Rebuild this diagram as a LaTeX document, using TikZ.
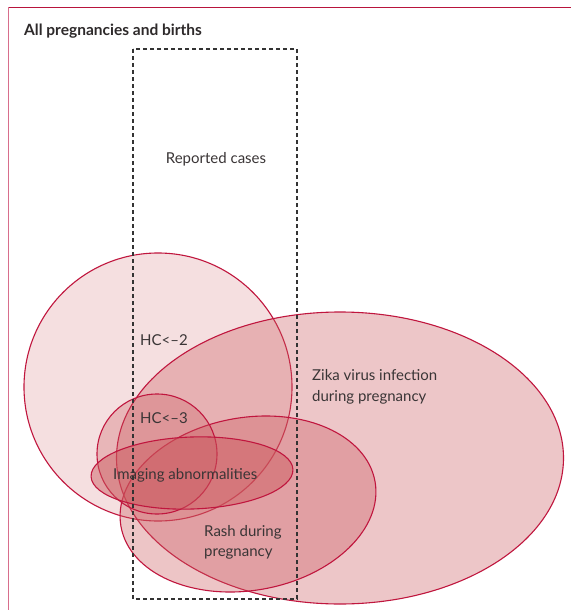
\documentclass[tikz,border=0pt]{standalone}
\usepackage{fontspec}
\setmainfont{Lato}
\definecolor{setred}{HTML}{CC595E}
\definecolor{edgered}{HTML}{C0163E}
\definecolor{textgray}{HTML}{3A3536}
\definecolor{topline}{HTML}{B8143C}
\definecolor{leftline}{HTML}{D86E8C}
\definecolor{dashgray}{HTML}{333333}
\begin{document}
\begin{tikzpicture}[x=1pt,y=-1pt,
  setshape/.style={fill=setred, fill opacity=#1, draw=edgered, line width=1.1pt},
  lbl/.style={text=textgray, font=\fontsize{15}{20}\selectfont, inner sep=0pt},
  ttl/.style={text=textgray!80!black, font=\fontsize{15.5}{18}\selectfont\bfseries, inner sep=0pt},
  dashbox/.style={draw=dashgray, line width=1.1pt, dash pattern=on 4pt off 3pt},
]
\useasboundingbox (0,0) rectangle (571,610);
\fill[white] (0,0) rectangle (571,610);
% frame
\draw[topline, line width=1.5pt] (8,7.3) -- (571,7.3);
\draw[leftline, line width=1.5pt] (8.4,7.3) -- (8.4,610);
% sets
\draw[setshape=0.19] (158,387) circle [radius=134];
\draw[setshape=0.34] (340,458) ellipse [x radius=223.5, y radius=146];
\draw[setshape=0.35, rotate around={10:(248,504)}] (248,504) ellipse [x radius=129, y radius=86.4];
\draw[setshape=0.30] (157,454) circle [radius=60];
\draw[setshape=0.47, rotate around={2:(192,473)}] (192,473) ellipse [x radius=101, y radius=36];
% reported cases box
\draw[dashbox] (133,49) rectangle (297,599);
% labels
\node[ttl, anchor=base west] (title) at (24,36) {All pregnancies and births};
\node[lbl, anchor=base] (rep) at (216,163) {Reported cases};
\node[lbl, anchor=base west] (hc2) at (140,345) {HC<–2};
\node[lbl, anchor=base west] (hc3) at (140,423) {HC<–3};
\node[lbl, anchor=base west] (img) at (113,479) {Imaging abnormalities};
\node[lbl, anchor=base west] (zika1) at (312,380) {Zika virus infection};
\node[lbl, anchor=base west] (zika2) at (312,401) {during pregnancy};
\node[lbl, anchor=base west] (rash1) at (204,536) {Rash during};
\node[lbl, anchor=base west] (rash2) at (204,556) {pregnancy};
\end{tikzpicture}
\end{document}
